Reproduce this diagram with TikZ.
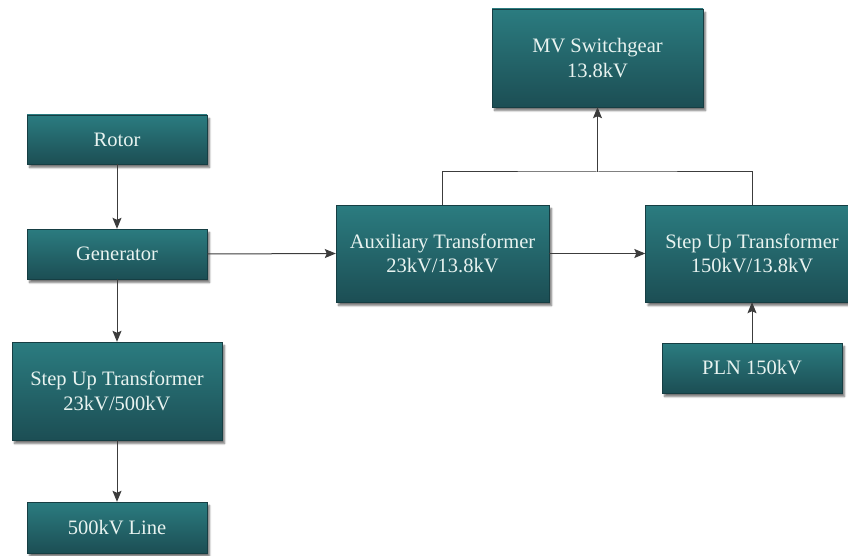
\documentclass[tikz,border=0pt]{standalone}
\usepackage{fontspec}
\setmainfont{Liberation Serif}
\usetikzlibrary{arrows.meta,shadows.blur}
\definecolor{boxtop}{HTML}{2B7C80}
\definecolor{boxbot}{HTML}{1C4E54}
\definecolor{boxtext}{HTML}{E8F3F0}
\definecolor{linec}{HTML}{3C3C3C}
\tikzset{
  blk/.style={rectangle, top color=boxtop, bottom color=boxbot, draw=boxbot!80!black, line width=0.4pt,
    text=boxtext, align=center, inner sep=2pt,
    font=\fontsize{20.5}{24.5}\selectfont,
    blur shadow={shadow xshift=2.5pt, shadow yshift=-3.5pt, shadow blur steps=6, shadow opacity=55}},
  conn/.style={draw=linec, line width=1pt},
  arr/.style={conn, -{Stealth[length=11pt,width=9pt,inset=2pt]}}
}
\begin{document}
\begin{tikzpicture}[x=1pt,y=-1pt]
\useasboundingbox (0,0) rectangle (848,556);
\clip (0,0) rectangle (848,556);
\node[blk, minimum width=180pt, minimum height=49pt] (rotor) at (117,139.5) {Rotor};
\node[blk, minimum width=180pt, minimum height=50pt] (gen) at (117,254) {Generator};
\node[blk, minimum width=210pt, minimum height=98pt] (su1) at (117,391) {Step Up Transformer\\23kV/500kV};
\node[blk, minimum width=180pt, minimum height=51pt] (line) at (117,527.5) {500kV Line};
\node[blk, minimum width=211pt, minimum height=98pt] (mv) at (597.5,58) {MV Switchgear\\13.8kV};
\node[blk, minimum width=213pt, minimum height=97pt] (aux) at (442.5,253.5) {Auxiliary Transformer\\23kV/13.8kV};
\node[blk, minimum width=213pt, minimum height=97pt] (su2) at (752,253.5) {Step Up Transformer\\150kV/13.8kV};
\node[blk, minimum width=180pt, minimum height=50pt] (pln) at (752,368) {PLN 150kV};
\coordinate (j) at (597.5,172);
\draw[arr] (rotor.south) -- (gen.north);
\draw[arr] (gen.south) -- (su1.north);
\draw[arr] (su1.south) -- (line.north);
\draw[arr] (gen.east) -- (aux.west);
\draw[arr] (aux.east) -- (su2.west);
\draw[arr] (pln.north) -- (su2.south);
\draw[conn] (aux.north) |- (j) -| (su2.north);
\draw[arr] (j) -- (mv.south);
\end{tikzpicture}
\end{document}
